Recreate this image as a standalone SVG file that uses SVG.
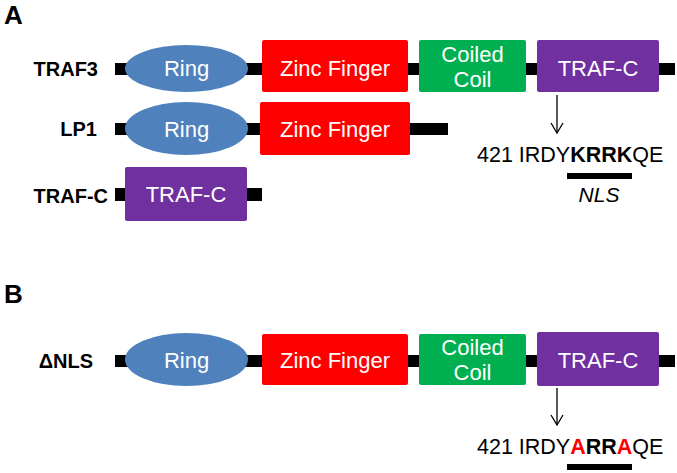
<svg xmlns="http://www.w3.org/2000/svg" width="677" height="473" viewBox="0 0 677 473">
<style>
text{font-family:"Liberation Sans",Arial,sans-serif}
.lbl{font-size:20px;font-weight:bold;fill:#000;text-anchor:end}
.pl{font-size:26px;font-weight:bold;fill:#000}
.in{font-size:22px;fill:#fff;text-anchor:middle}
.bar{fill:#000}
.ring{fill:#4F81BD}
.zf{fill:#FF0000}
.cc{fill:#00B050}
.tc{fill:#7030A0}
.seq{font-size:21.5px;fill:#000}
</style>
<defs>
<marker id="ah" markerWidth="14" markerHeight="14" refX="12" refY="7" orient="auto" markerUnits="userSpaceOnUse" viewBox="0 0 14 14">
<path d="M2,1 L12,7 L2,13" fill="none" stroke="#000" stroke-width="1.3"/>
</marker>
</defs>
<text class="pl" x="4" y="24">A</text>
<text class="pl" x="4" y="303">B</text>

<g id="traf3">
<text class="lbl" x="98" y="76">TRAF3</text>
<rect class="bar" x="115" y="63" width="560" height="12"/>
<ellipse class="ring" cx="186.5" cy="68.5" rx="61.5" ry="23.5"/>
<text class="in" x="186.5" y="76">Ring</text>
<rect class="zf" x="262" y="40" width="146" height="52" rx="2"/>
<text class="in" x="335" y="76">Zinc Finger</text>
<rect class="cc" x="419" y="40" width="107" height="52" rx="2"/>
<text class="in" x="472.5" y="62">Coiled</text>
<text class="in" x="472.5" y="87">Coil</text>
<rect class="tc" x="537" y="40" width="122" height="52" rx="2"/>
<text class="in" x="598" y="76">TRAF-C</text>
</g>

<g id="lp1">
<text class="lbl" x="97" y="136">LP1</text>
<rect class="bar" x="115" y="123" width="333" height="12"/>
<ellipse class="ring" cx="186.5" cy="128.5" rx="61.5" ry="26.5"/>
<text class="in" x="186.5" y="137">Ring</text>
<rect class="zf" x="260" y="102" width="150" height="53" rx="2"/>
<text class="in" x="335" y="137">Zinc Finger</text>
</g>

<g id="trafc">
<text class="lbl" x="108" y="203">TRAF-C</text>
<rect class="bar" x="115" y="188" width="147" height="13"/>
<rect class="tc" x="125" y="167" width="122" height="54" rx="2"/>
<text class="in" x="186" y="202">TRAF-C</text>
</g>

<g id="seqA">
<text class="seq" x="477" y="162">421 IRDY<tspan font-weight="bold">KRRK</tspan>QE</text>
<rect class="bar" x="567" y="173" width="65" height="6"/>
<text x="599" y="202" font-size="21" font-style="italic" text-anchor="middle">NLS</text>
</g>

<g id="dnls">
<text class="lbl" x="93" y="368">ΔNLS</text>
<rect class="bar" x="115" y="355" width="560" height="12"/>
<ellipse class="ring" cx="186.5" cy="359.5" rx="61.5" ry="26.5"/>
<text class="in" x="186.5" y="368">Ring</text>
<rect class="zf" x="262" y="334" width="146" height="51" rx="2"/>
<text class="in" x="335" y="368">Zinc Finger</text>
<rect class="cc" x="419" y="334" width="107" height="51" rx="2"/>
<text class="in" x="472.5" y="355">Coiled</text>
<text class="in" x="472.5" y="380">Coil</text>
<rect class="tc" x="537" y="332" width="122" height="54" rx="2"/>
<text class="in" x="598" y="368">TRAF-C</text>
</g>

<g id="seqB">
<text class="seq" x="477" y="454">421 IRDY<tspan font-weight="bold" fill="#FF0000">A</tspan><tspan font-weight="bold">RR</tspan><tspan font-weight="bold" fill="#FF0000">A</tspan>QE</text>
<rect class="bar" x="567" y="464" width="65" height="6"/>
</g>

<g id="connectors">
<line x1="557" y1="95" x2="557" y2="133" stroke="#000" stroke-width="1.3" marker-end="url(#ah)"/>
<line x1="557" y1="388" x2="557" y2="425" stroke="#000" stroke-width="1.3" marker-end="url(#ah)"/>
</g>
</svg>
